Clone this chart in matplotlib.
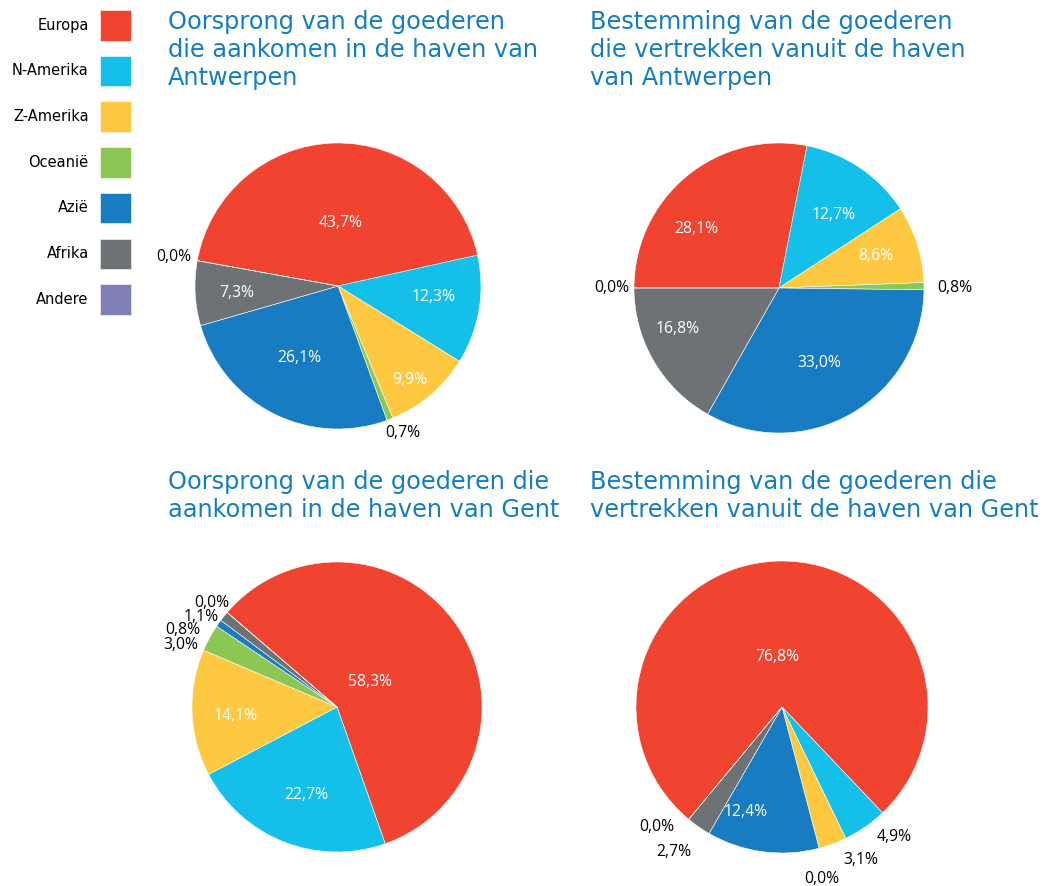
import matplotlib.pyplot as plt

plt.rcParams['font.family'] = ['Open Sans', 'DejaVu Sans']

# data
regions = ['Europa', 'N-Amerika', 'Z-Amerika', 'Oceanië', 'Azië', 'Afrika', 'Andere']
colors = ['#f04330', '#14c0ea', '#fec841', '#8cc653', '#177cc1', '#6d7275', '#8080b8']

antwerpen_in = [43.7, 12.3, 9.9, 0.7, 26.1, 7.3, 0.0]
antwerpen_out = [28.1, 12.7, 8.6, 0.8, 33.0, 16.8, 0.0]
gent_in = [58.3, 22.7, 14.1, 3.0, 0.8, 1.1, 0.0]
gent_out = [76.8, 4.9, 3.1, 0.0, 12.4, 2.7, 0.0]

titles = [
    'Oorsprong van de goederen\ndie aankomen in de haven van\nAntwerpen',
    'Bestemming van de goederen\ndie vertrekken vanuit de haven\nvan Antwerpen',
    'Oorsprong van de goederen die\naankomen in de haven van Gent',
    'Bestemming van de goederen die\nvertrekken vanuit de haven van Gent',
]

# layout (pixels of a 1048x886 figure)
W, H = 1048, 886
pies = [
    # values, startangle, center x, center y, radius
    (antwerpen_in, 169.8, 338, 286, 143),
    (antwerpen_out, 180.0, 779, 288, 145),
    (gent_in, 139.3, 337, 707, 145),
    (gent_out, 230.3, 782, 707, 146),
]
# label positions in units of the radius, relative to the pie centre
label_pos = [
    [(0.02, 0.44), (0.67, -0.08), (0.50, -0.66), (0.45, -1.03), (-0.27, -0.50), (-0.71, -0.05), (-1.15, 0.20)],
    [(-0.57, 0.41), (0.38, 0.50), (0.67, 0.22), (1.21, 0.0), (0.28, -0.52), (-0.70, -0.28), (-1.15, 0.0)],
    [(0.23, 0.17), (-0.21, -0.61), (-0.70, -0.06), (-1.08, 0.43), (-1.06, 0.53), (-0.94, 0.62), (-0.86, 0.72)],
    [(-0.03, 0.34), (0.77, -0.89), (0.54, -1.05), (0.27, -1.18), (-0.25, -0.72), (-0.74, -0.99), (-0.86, -0.82)],
]
title_pos = [(168, 10), (590, 10), (168, 470), (590, 470)]
title_color = '#127dc2'

fig = plt.figure(figsize=(W / 100, H / 100), dpi=100)

handles = None
for (values, start, cx, cy, r), labels in zip(pies, label_pos):
    ax = fig.add_axes([(cx - r) / W, (H - cy - r) / H, 2 * r / W, 2 * r / H])
    wedges, _ = ax.pie(values, colors=colors, startangle=start, counterclock=False,
                       radius=1, wedgeprops=dict(edgecolor='white', linewidth=0.4))
    ax.set_xlim(-1, 1)
    ax.set_ylim(-1, 1)
    ax.set_aspect('equal')
    ax.axis('off')
    for v, (lx, ly) in zip(values, labels):
        inside = lx * lx + ly * ly < 1
        ax.text(lx, ly, f'{v:.1f}'.replace('.', ',') + '%', ha='center', va='center',
                fontsize=11.3, color='white' if inside else 'black', clip_on=False)
    if handles is None:
        handles = wedges

for title, (tx, ty) in zip(titles, title_pos):
    fig.text(tx / W, 1 - ty / H, title, ha='left', va='top', fontsize=17.3,
             family='DejaVu Sans', color=title_color, linespacing=1.2)

fig.legend(handles, regions, loc='upper right', bbox_to_anchor=(131 / W, 1 - 10 / H),
           frameon=False, markerfirst=False, handlelength=2.1, handleheight=2.845,
           labelspacing=1.04, handletextpad=0.8, borderpad=0, borderaxespad=0,
           prop={'family': 'DejaVu Sans', 'size': 10.5})

fig.savefig('out.png', dpi=100)
